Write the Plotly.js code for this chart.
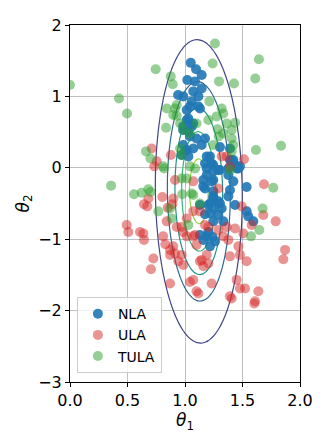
<!DOCTYPE html>
<html>
<head>
<meta charset="utf-8">
<script src="https://cdn.plot.ly/plotly-3.0.1.min.js"></script>
<style>
  html, body { margin: 0; padding: 0; background: #fff; }
  #chart { width: 332px; height: 443px; }
</style>
</head>
<body>
<div id="chart"></div>
<script>
// samples (theta1, theta2)
const nlaX = [1.05, 1.096, 1.145, 1.02, 1.087, 1.145, 1.072, 1.116, 0.985, 0.94, 1.058, 1.13, 1.015, 1.043, 1.116,
  1.029, 1.015, 1.072, 0.985, 1.058, 1.029, 0.985, 1.043, 1.10, 1.174, 1.145, 0.985, 1.015, 1.072, 1.0,
  0.971, 1.029, 1.304, 1.391, 1.217, 1.189, 1.174, 1.232, 1.246, 1.406, 1.391, 1.42, 1.435, 1.478, 1.464,
  1.377, 1.449, 1.29, 1.304, 1.189, 1.246, 1.189, 1.377, 1.246, 1.159, 1.42, 1.232, 1.159, 1.174, 1.536,
  1.391, 1.246, 1.246, 1.377, 1.246, 1.29, 1.304, 1.217, 1.13, 1.203, 1.435, 1.319, 1.246, 1.536, 1.217,
  1.29, 1.174, 1.55, 1.594, 1.246, 1.333, 1.13, 1.189, 1.159, 1.261, 1.217, 1.203, 1.24];
const nlaY = [1.47, 1.38, 1.30, 1.23, 1.21, 1.11, 1.07, 1.00, 1.00, 1.02, 0.93, 0.83, 0.81, 0.86, 0.86,
  0.69, 0.67, 0.62, 0.58, 0.58, 0.51, 0.53, 0.44, 0.41, 0.41, 0.32, 0.32, 0.25, 0.27, 0.23,
  0.18, 0.16, 0.29, 0.27, 0.16, 0.16, 0.06, 0.06, 0.04, 0.11, 0.11, 0.11, 0.04, 0.02, -0.01,
  -0.01, -0.01, -0.03, -0.03, -0.01, -0.05, -0.10, -0.10, -0.17, -0.17, -0.19, -0.19, -0.26, -0.29, -0.27,
  -0.31, -0.33, -0.40, -0.40, -0.43, -0.47, -0.50, -0.50, -0.52, -0.52, -0.52, -0.57, -0.57, -0.61, -0.64,
  -0.66, -0.65, -0.68, -0.75, -0.75, -0.75, -0.94, -0.96, -1.01, -1.03, -1.10, -0.90, -0.97];

const ulaX = [0.71, 0.754, 0.878, 0.733, 1.319, 1.513, 1.39, 1.363, 0.913, 1.072, 0.681, 0.643, 0.672, 0.493, 0.507,
  0.609, 0.643, 0.803, 0.898, 0.85, 0.89, 0.841, 0.971, 1.015, 0.829, 0.898, 0.913, 0.87, 0.942, 0.725,
  0.704, 1.015, 1.687, 1.789, 1.681, 1.87, 1.855, 1.072, 0.985, 1.087, 1.10, 0.971, 1.13, 1.203, 1.159,
  1.043, 1.232, 1.116, 1.391, 1.478, 1.464, 1.536, 1.449, 1.522, 1.638, 1.609, 1.406, 1.507, 1.435, 1.363,
  1.493, 1.58, 1.333, 1.29, 1.13, 1.203, 0.87, 0.985, 1.072, 1.10, 1.145, 1.189, 0.87, 0.81, 1.39,
  1.478, 0.638, 1.072, 0.928, 1.29, 1.377, 1.174, 1.603];
const ulaY = [0.27, 0.09, 0.18, 0.02, 0.16, 0.12, 0.02, 0.16, -0.17, -0.19, -0.43, -0.51, -0.54, -0.80, -0.90,
  -0.90, -1.01, -0.41, -0.43, -0.56, -0.51, -0.75, -0.83, -0.71, -1.07, -1.10, -1.20, -1.22, -1.31, -1.27,
  -1.42, -0.96, -0.23, -0.75, -0.66, -1.15, -1.28, -0.61, -0.90, -0.94, -1.08, -1.22, -1.31, -1.34, -1.38,
  -1.60, -1.62, -1.76, -1.24, -1.22, -1.10, -1.31, -1.57, -1.69, -1.73, -1.87, -1.83, -0.92, -0.85, -0.83,
  -0.54, -0.80, -0.96, -0.29, -0.61, -0.83, -1.62, -1.36, -1.57, -1.73, -1.29, -1.22, -1.15, -0.96, -1.80,
  -1.69, -0.92, -0.96, -0.83, -0.87, -1.01, -0.80, -1.90];

const tulaX = [0.0, 0.745, 0.876, 0.893, 0.426, 0.496, 0.835, 0.913, 0.928, 0.661, 0.70, 0.81, 0.957, 0.97, 1.261,
  1.643, 1.24, 1.296, 1.426, 1.611, 1.211, 1.319, 1.333, 1.203, 1.363, 1.435, 1.284, 1.406, 1.293, 1.406,
  1.246, 1.42, 1.617, 1.835, 1.10, 0.985, 1.406, 0.357, 0.557, 0.623, 0.681, 0.70, 0.768, 0.817, 0.977,
  1.015, 0.884, 0.87, 1.029, 1.058, 1.087, 1.13, 1.768, 1.675, 1.646, 1.574, 1.391, 0.841, 0.898, 0.928,
  1.275, 1.333, 1.043, 0.971, 1.072, 1.043, 0.957];
const tulaY = [1.16, 1.38, 1.28, 1.17, 0.97, 0.76, 0.56, 0.83, 0.73, 0.23, 0.13, 0.02, 0.27, 0.18, 1.74,
  1.52, 1.46, 1.21, 1.18, 1.25, 0.93, 0.83, 0.76, 0.67, 0.62, 0.63, 0.54, 0.53, 0.44, 0.41,
  0.32, 0.32, 0.25, 0.31, 0.62, 0.53, 0.23, -0.25, -0.37, -0.35, -0.30, -0.34, -0.61, -0.01, -0.37,
  -0.15, -0.71, -0.57, -0.80, -0.36, -0.01, -0.50, -0.28, -0.57, -0.87, -0.96, -0.03, 0.83, 0.74, 0.88,
  0.72, 0.48, 0.02, -0.15, -0.38, 0.48, 0.62];

// target density shown as contours (bivariate normal, peak-normalised)
const targetMean = [1.12, -0.33];
const targetStd = [0.176, 0.99];
const targetRho = -0.04;
const contourLevels = [0.1, 0.9, 0.2]; // start, end, step
const contourColors = ['#414487', '#31688e', '#21918c', '#35b779', '#90d743'];

function densityGrid() {
    const gx = [], gy = [], gz = [];
    for (let i = 0; i <= 100; i++) gx.push(i * 0.02);
    for (let j = 0; j <= 200; j++) gy.push(-3 + j * 0.025);
    for (const y of gy) {
        const row = [];
        for (const x of gx) {
            const u = (x - targetMean[0]) / targetStd[0];
            const v = (y - targetMean[1]) / targetStd[1];
            const q = (u * u - 2 * targetRho * u * v + v * v) / (1 - targetRho * targetRho);
            row.push(Math.exp(-q / 2));
        }
        gz.push(row);
    }
    return { x: gx, y: gy, z: gz };
}

const grid = densityGrid();
const font = 'DejaVu Sans, sans-serif';

const traces = [
    {
        type: 'contour',
        x: grid.x, y: grid.y, z: grid.z,
        zmin: contourLevels[0], zmax: contourLevels[1],
        autocontour: false,
        contours: { start: contourLevels[0], end: contourLevels[1], size: contourLevels[2], coloring: 'lines' },
        colorscale: contourColors.map((c, i) => [i / (contourColors.length - 1), c]),
        line: { width: 1.2 },
        showscale: false, showlegend: false, hoverinfo: 'skip'
    },
    {
        type: 'scatter', mode: 'markers', name: 'NLA',
        x: nlaX, y: nlaY,
        marker: { size: 10, color: '#1f77b4', opacity: 0.9 }
    },
    {
        type: 'scatter', mode: 'markers', name: 'ULA',
        x: ulaX, y: ulaY,
        marker: { size: 10, color: '#d62728', opacity: 0.5 }
    },
    {
        type: 'scatter', mode: 'markers', name: 'TULA',
        x: tulaX, y: tulaY,
        marker: { size: 10, color: '#2ca02c', opacity: 0.5 }
    }
];

const axisCommon = {
    showline: true, mirror: true, linecolor: '#000', linewidth: 1,
    ticks: 'outside', ticklen: 4, tickcolor: '#000', tickwidth: 1,
    showgrid: true, gridcolor: '#b0b0b0', gridwidth: 0.8,
    zeroline: false,
    tickfont: { family: font, size: 16, color: '#000' }
};

const layout = {
    width: 332, height: 443,
    margin: { l: 70, r: 32, t: 25, b: 61 },
    paper_bgcolor: '#fff', plot_bgcolor: '#fff',
    font: { family: font, color: '#000' },
    xaxis: Object.assign({}, axisCommon, {
        range: [0, 2], dtick: 0.5, tickformat: '.1f',
        title: { text: '<i>θ</i><sub>1</sub>', font: { family: font, size: 17 }, standoff: 2 }
    }),
    yaxis: Object.assign({}, axisCommon, {
        range: [-3, 2], dtick: 1,
        title: { text: '<i>θ</i><sub>2</sub>', font: { family: font, size: 17 }, standoff: 4 }
    }),
    legend: {
        x: 0.03, y: 0.025, xanchor: 'left', yanchor: 'bottom',
        bgcolor: 'rgba(255,255,255,0.8)', bordercolor: '#cccccc', borderwidth: 1,
        font: { family: font, size: 14 }
    },
    showlegend: true
};

Plotly.newPlot('chart', traces, layout, { staticPlot: true });
</script>
</body>
</html>
